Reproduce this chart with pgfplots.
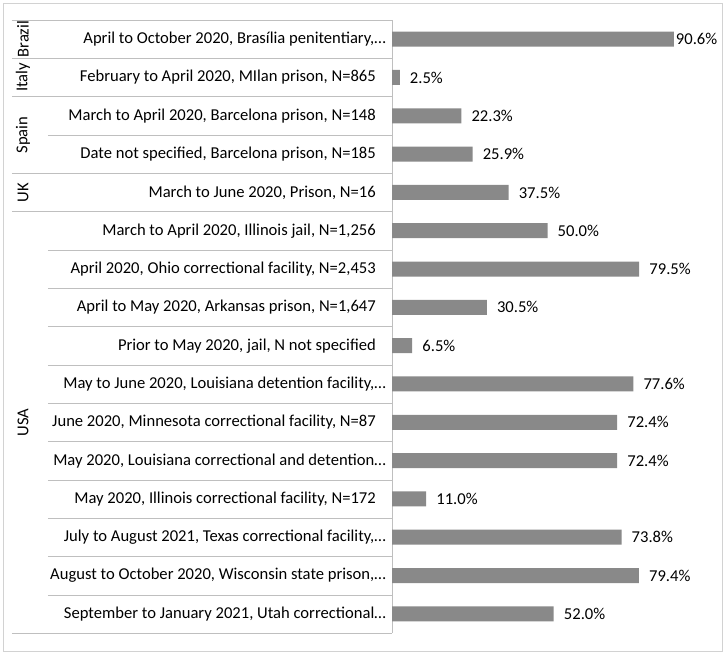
\documentclass[border=0pt]{standalone}
\usepackage{fontspec}
\setmainfont{Carlito}
\usepackage{pgfplots}
\usepackage{pgfplotstable}
\pgfplotsset{compat=1.18}

\definecolor{barc}{RGB}{137,137,137}
\definecolor{linec}{RGB}{191,191,191}
\definecolor{framec}{RGB}{210,210,210}

% row, value, label shift (pt)
\pgfplotstableread{
row val shift
0  90.6 2
1  2.5  10
2  22.3 10
3  25.9 10
4  37.5 10
5  50.0 10
6  79.5 10
7  30.5 10
8  6.5  10
9  77.6 10
10 72.4 10
11 72.4 10
12 11.0 10
13 73.8 10
14 79.4 10
15 52.0 10
}\datatable

\newcommand{\fs}{\fontsize{16.6}{19}\selectfont}
\newcommand{\trunc}{…\kern-10pt}

\begin{document}
\begin{tikzpicture}[x=1pt,y=1pt]
\useasboundingbox (0,0) rectangle (725,-654);
\draw[framec, line width=1pt] (3,-3) rectangle (722,-651);
\begin{axis}[
  at={(392pt,-20pt)}, anchor=north west,
  scale only axis, width=311pt, height=613pt,
  xmin=0, xmax=100, ymin=-0.5, ymax=15.5, y dir=reverse,
  xbar, bar width=15pt,
  axis x line=none,
  axis y line*=left,
  axis line style={-, linec, line width=0.8pt},
  ytick={0,...,15},
  yticklabels={
    {April to October 2020, Brasília penitentiary,\trunc},
    {February to April 2020, MIlan prison, N=865},
    {March to April 2020, Barcelona prison, N=148},
    {Date not specified, Barcelona prison, N=185},
    {March to June 2020, Prison, N=16},
    {March to April 2020, Illinois jail, N=1,256},
    {April 2020, Ohio correctional facility, N=2,453},
    {April to May 2020, Arkansas prison, N=1,647},
    {Prior to May 2020, jail, N not specified},
    {May to June 2020, Louisiana detention facility,\trunc},
    {June 2020, Minnesota correctional facility, N=87},
    {May 2020, Louisiana correctional and detention\trunc},
    {May 2020, Illinois correctional facility, N=172},
    {July to August 2021, Texas correctional facility,\trunc},
    {August to October 2020, Wisconsin state prison,\trunc},
    {September to January 2021, Utah correctional\trunc}},
  major tick length=0pt,
  yticklabel style={font=\fs, anchor=east, inner sep=0pt, xshift=-16pt},
  /pgf/number format/assume math mode=true,
  visualization depends on={\thisrow{shift} \as \lblshift},
  nodes near coords={\pgfmathprintnumber[fixed,zerofill,precision=1]{\pgfplotspointmeta}\%},
  nodes near coords style={font=\fs, anchor=west, inner sep=0pt, xshift=\lblshift pt, black},
  clip=false,
]
\addplot[fill=barc, draw=none] table[x=val, y=row] {\datatable};

% group boundaries
\draw[linec] ([xshift=-380pt]axis cs:0,-0.5) -- (axis cs:0,-0.5);
\draw[linec] ([xshift=-380pt]axis cs:0,0.5) -- (axis cs:0,0.5);
\draw[linec] ([xshift=-380pt]axis cs:0,1.5) -- (axis cs:0,1.5);
\draw[linec] ([xshift=-380pt]axis cs:0,3.5) -- (axis cs:0,3.5);
\draw[linec] ([xshift=-380pt]axis cs:0,4.5) -- (axis cs:0,4.5);
\draw[linec] ([xshift=-380pt]axis cs:0,15.5) -- (axis cs:0,15.5);
% within-group lines
\draw[linec] ([xshift=-344pt]axis cs:0,2.5) -- (axis cs:0,2.5);
\draw[linec] ([xshift=-344pt]axis cs:0,5.5) -- (axis cs:0,5.5);
\draw[linec] ([xshift=-344pt]axis cs:0,6.5) -- (axis cs:0,6.5);
\draw[linec] ([xshift=-344pt]axis cs:0,7.5) -- (axis cs:0,7.5);
\draw[linec] ([xshift=-344pt]axis cs:0,8.5) -- (axis cs:0,8.5);
\draw[linec] ([xshift=-344pt]axis cs:0,9.5) -- (axis cs:0,9.5);
\draw[linec] ([xshift=-344pt]axis cs:0,10.5) -- (axis cs:0,10.5);
\draw[linec] ([xshift=-344pt]axis cs:0,11.5) -- (axis cs:0,11.5);
\draw[linec] ([xshift=-344pt]axis cs:0,12.5) -- (axis cs:0,12.5);
\draw[linec] ([xshift=-344pt]axis cs:0,13.5) -- (axis cs:0,13.5);
\draw[linec] ([xshift=-344pt]axis cs:0,14.5) -- (axis cs:0,14.5);

% group names
\node[rotate=90, font=\fs, inner sep=0pt] at ([xshift=-369pt]axis cs:0,0) {Brazil};
\node[rotate=90, font=\fs, inner sep=0pt] at ([xshift=-369pt]axis cs:0,1) {Italy};
\node[rotate=90, font=\fs, inner sep=0pt] at ([xshift=-369pt]axis cs:0,2.5) {Spain};
\node[rotate=90, font=\fs, inner sep=0pt] at ([xshift=-369pt]axis cs:0,4) {UK};
\node[rotate=90, font=\fs, inner sep=0pt] at ([xshift=-369pt]axis cs:0,10) {USA};
\end{axis}
\end{tikzpicture}
\end{document}
